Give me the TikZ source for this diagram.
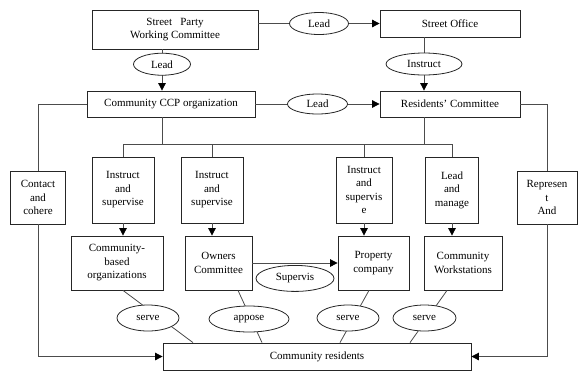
\documentclass[tikz,border=0pt]{standalone}
\usepackage{fontspec}
\setmainfont{Liberation Serif}
\usetikzlibrary{arrows.meta,shapes.geometric}

\begin{document}
\begin{tikzpicture}[x=1pt,y=-1pt,
	box/.style={draw=black!85,line width=0.8pt,align=center,inner sep=1pt},
	oval/.style={ellipse,draw=black!85,line width=0.8pt,fill=white,inner sep=0pt,minimum height=22pt},
	link/.style={draw=black!70,line width=0.8pt},
	arr/.style={link,-{Triangle[width=7.5pt,length=7.5pt,color=black]}}]
	\tikzstyle{every node}+=[font=\fontsize{11}{13.5}\selectfont]
	\useasboundingbox (0,0) rectangle (578,376);
	\coordinate (lx) at (162,0);
	\coordinate (rx) at (424,0);
	\coordinate (br) at (0,144);
	% boxes
	\node[box,minimum width=166,minimum height=39] (party) at (175,29.5) {Street\ \ \ Party\\Working Committee};
	\node[box,minimum width=140,minimum height=27] (office) at (450,23.5) {Street Office};
	\node[box,minimum width=168,minimum height=26] (ccp) at (171,104) {Community CCP organization};
	\node[box,minimum width=140,minimum height=26] (resc) at (450,104) {Residents' Committee};
	\node[box,minimum width=55,minimum height=53] (contact) at (38,197.5) {Contact\\and\\cohere};
	\node[box,minimum width=60,minimum height=53] (repr) at (547,197.5) {Represen\\t\\And};
	\node[box,minimum width=62,minimum height=66] (is1) at (123,190) {Instruct\\and\\supervise};
	\node[box,minimum width=62,minimum height=66] (is2) at (212,190) {Instruct\\and\\supervise};
	\node[box,minimum width=56,minimum height=66] (is3) at (364,190) {Instruct\\and\\supervis\\e};
	\node[box,minimum width=53,minimum height=66] (lm) at (452,190) {Lead\\and\\manage};
	\node[box,minimum width=92,minimum height=54] (cbo) at (117,263) {Community-\\based\\organizations};
	\node[box,minimum width=67,minimum height=54] (owc) at (218.5,263) {Owners\\Committee};
	\node[box,minimum width=71,minimum height=54] (prop) at (373.5,263) {Property\\company};
	\node[box,minimum width=78,minimum height=54] (ws) at (463,263) {Community\\Workstations};
	\node[box,minimum width=308,minimum height=27] (resid) at (317,356.5) {Community residents};
	% leading lines
	\draw[arr] (party.east |- office.west) -- node[oval,minimum width=59] (lead1) {Lead} (office.west);
	\draw[arr] (party.south -| lx) -- node[oval,pos=0.36,minimum width=57] (lead2) {Lead} (ccp.north -| lx);
	\draw[arr] (office.south -| rx) -- node[oval,minimum width=76] (instr) {Instruct} (resc.north -| rx);
	\draw[arr] (ccp.east) -- node[oval,minimum width=60,minimum height=20] (lead3) {Lead} (resc.west);
	\draw[link] (ccp.west) -| (contact.north);
	\draw[arr] (contact.south) |- (resid.west);
	\draw[link] (resc.east) -| (repr.north);
	\draw[arr] (repr.south) |- (resid.east);
	% branches
	\draw[link] (ccp.south -| lx) -- (lx |- br);
	\draw[link] (resc.south -| rx) -- (rx |- br);
	\draw[link] (is1.north |- br) -- (lm.north |- br);
	\foreach \n/\m in {is1/cbo,is2/owc,is3/prop,lm/ws} {
		\draw[link] (\n.north |- br) -- (\n.north);
		\draw[arr] (\n.south) -- (\n.south |- \m.north);
	}
	\draw[arr] (owc.east) -- node[oval,below=2pt,minimum width=78,minimum height=26] (sup) {Supervis} (owc.east -| prop.west);
	% serving lines
	\draw[link] ([xshift=6pt]cbo.south) -- ([xshift=-124pt]resid.north);
	\draw[link] ([xshift=19.5pt]owc.south) -- ([xshift=-55pt]resid.north);
	\draw[link] ([xshift=-4.5pt]prop.south) -- ([xshift=23pt]resid.north);
	\draw[link] ([xshift=-16pt]ws.south) -- ([xshift=93pt]resid.north);
	\node[oval,minimum width=62,minimum height=26] (sv1) at (148,318) {serve};
	\node[oval,minimum width=80,minimum height=26] (sv2) at (249,319) {appose};
	\node[oval,minimum width=62,minimum height=26] (sv3) at (348,318) {serve};
	\node[oval,minimum width=63,minimum height=26] (sv4) at (424.5,318) {serve};
\end{tikzpicture}
\end{document}
